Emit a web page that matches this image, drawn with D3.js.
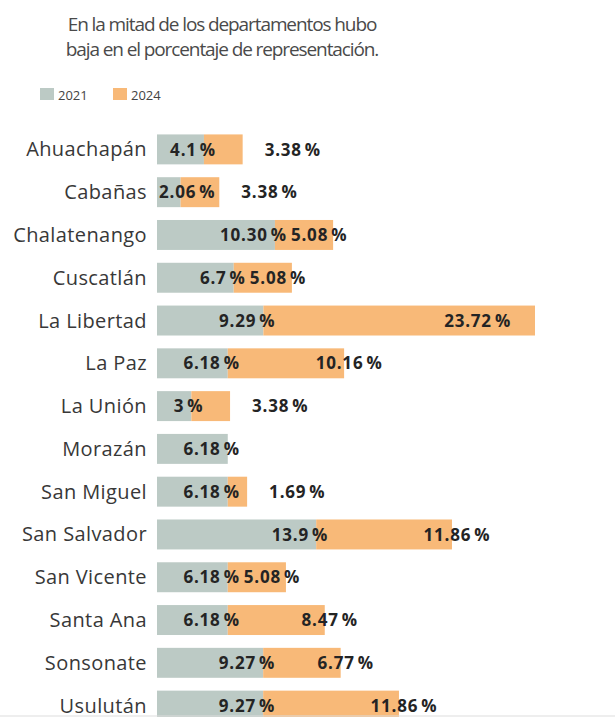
<!DOCTYPE html>
<html>
<head>
<meta charset="utf-8">
<script src="https://cdn.jsdelivr.net/npm/d3@7"></script>
<style>
  body { margin: 0; background: #fff; }
  svg { display: block; font-family: "Open Sans", "Noto Sans", sans-serif; }
</style>
</head>
<body>
<div class="chart"></div>
<script>
// departments, top to bottom
var departments = ["Ahuachapán", "Cabañas", "Chalatenango", "Cuscatlán", "La Libertad", "La Paz",
  "La Unión", "Morazán", "San Miguel", "San Salvador", "San Vicente", "Santa Ana", "Sonsonate", "Usulután"];

var values2021 = [4.1, 2.06, 10.30, 6.7, 9.29, 6.18, 3, 6.18, 6.18, 13.9, 6.18, 6.18, 9.27, 9.27];
var values2024 = [3.38, 3.38, 5.08, 5.08, 23.72, 10.16, 3.38, 0, 1.69, 11.86, 5.08, 8.47, 6.77, 11.86];

var labels2021 = ["4.1", "2.06", "10.30", "6.7", "9.29", "6.18", "3", "6.18", "6.18", "13.9", "6.18", "6.18", "9.27", "9.27"];
var labels2024 = ["3.38", "3.38", "5.08", "5.08", "23.72", "10.16", "3.38", "", "1.69", "11.86", "5.08", "8.47", "6.77", "11.86"];

var titleLines = ["En la mitad de los departamentos hubo", "baja en el porcentaje de representación."];
var seriesNames = ["2021", "2024"];

var colors = { "2021": "#bccac5", "2024": "#f8b978" };

var width = 615, height = 717;

var data = departments.map(function(d, i) {
  return { dep: d, v21: values2021[i], v24: values2024[i], l21: labels2021[i], l24: labels2024[i] };
});

var svg = d3.select(".chart").append("svg")
  .attr("width", width)
  .attr("height", height);

// title
svg.append("g").selectAll("text")
  .data(titleLines)
  .join("text")
  .attr("x", 222)
  .attr("y", (d, i) => 31 + i * 25)
  .attr("text-anchor", "middle")
  .attr("fill", "#4a4a4a")
  .style("font-size", "19px")
  .style("letter-spacing", "-1.1px")
  .text(d => d);

// legend
var legend = svg.append("g").selectAll("g")
  .data(seriesNames)
  .join("g")
  .attr("transform", (d, i) => `translate(${40 + i * 73},88)`);

legend.append("rect")
  .attr("width", 14)
  .attr("height", 12)
  .attr("fill", d => colors[d]);

legend.append("text")
  .attr("x", 18)
  .attr("y", 12)
  .attr("fill", "#444")
  .style("font-size", "13px")
  .text(d => d);

// scales
var x = d3.scaleLinear()
  .domain([0, d3.max(data, d => d.v21 + d.v24)])
  .range([157, 535]);

var y = d3.scaleBand()
  .domain(departments)
  .range([128, 727])
  .paddingInner(0.3)
  .paddingOuter(0.15);

// category axis (no line, no ticks)
var yAxis = svg.append("g")
  .attr("transform", "translate(157,0)")
  .call(d3.axisLeft(y).tickSize(0).tickPadding(10));
yAxis.select(".domain").remove();
yAxis.selectAll("text")
  .attr("fill", "#383838")
  .style("font-family", "'Open Sans', sans-serif")
  .style("font-size", "20px")
  .style("letter-spacing", "0.4px")
  .attr("dy", "0.35em");

// bars
var rows = svg.append("g").selectAll("g")
  .data(data)
  .join("g")
  .attr("transform", d => `translate(0,${y(d.dep)})`);

rows.append("rect")
  .attr("x", x(0))
  .attr("width", d => x(d.v21) - x(0))
  .attr("height", y.bandwidth())
  .attr("fill", colors["2021"]);

rows.append("rect")
  .attr("x", d => x(d.v21))
  .attr("width", d => x(d.v21 + d.v24) - x(d.v21))
  .attr("height", y.bandwidth())
  .attr("fill", colors["2024"]);

// value labels
function addLabel(sel, txt) {
  var t = sel.append("text")
    .attr("y", y.bandwidth() / 2)
    .attr("dy", "0.36em")
    .attr("fill", "#242424")
    .style("font-size", "17px")
    .style("font-weight", "bold")
    .style("letter-spacing", "0.8px");
  t.append("tspan").text(txt);
  t.append("tspan").attr("dx", 3).text("%");
  return t;
}

rows.each(function(d) {
  var g = d3.select(this);
  var end21 = x(d.v21);

  var t21 = addLabel(g, d.l21).attr("text-anchor", "end");
  var w21 = t21.node().getComputedTextLength() + 3;
  t21.attr("x", Math.max(end21 + 12, x(0) + w21 + 2));

  if (!d.l24) return;
  var end24 = x(d.v21 + d.v24);
  var seg = end24 - end21;
  var t24 = addLabel(g, d.l24);
  var w24 = t24.node().getComputedTextLength() + 3;
  if (seg < 45) {
    t24.attr("x", end24 + 22);
  } else if (seg < 60) {
    t24.attr("x", end21 + 16);
  } else if (seg < 200) {
    t24.attr("x", end24 + 5 - w24 / 2);
  } else {
    t24.attr("x", end24 - 24 - w24);
  }
});

// thin bottom rule
svg.append("line")
  .attr("x1", 0).attr("x2", width)
  .attr("y1", 716).attr("y2", 716)
  .attr("stroke", "#ddd");
</script>
</body>
</html>
